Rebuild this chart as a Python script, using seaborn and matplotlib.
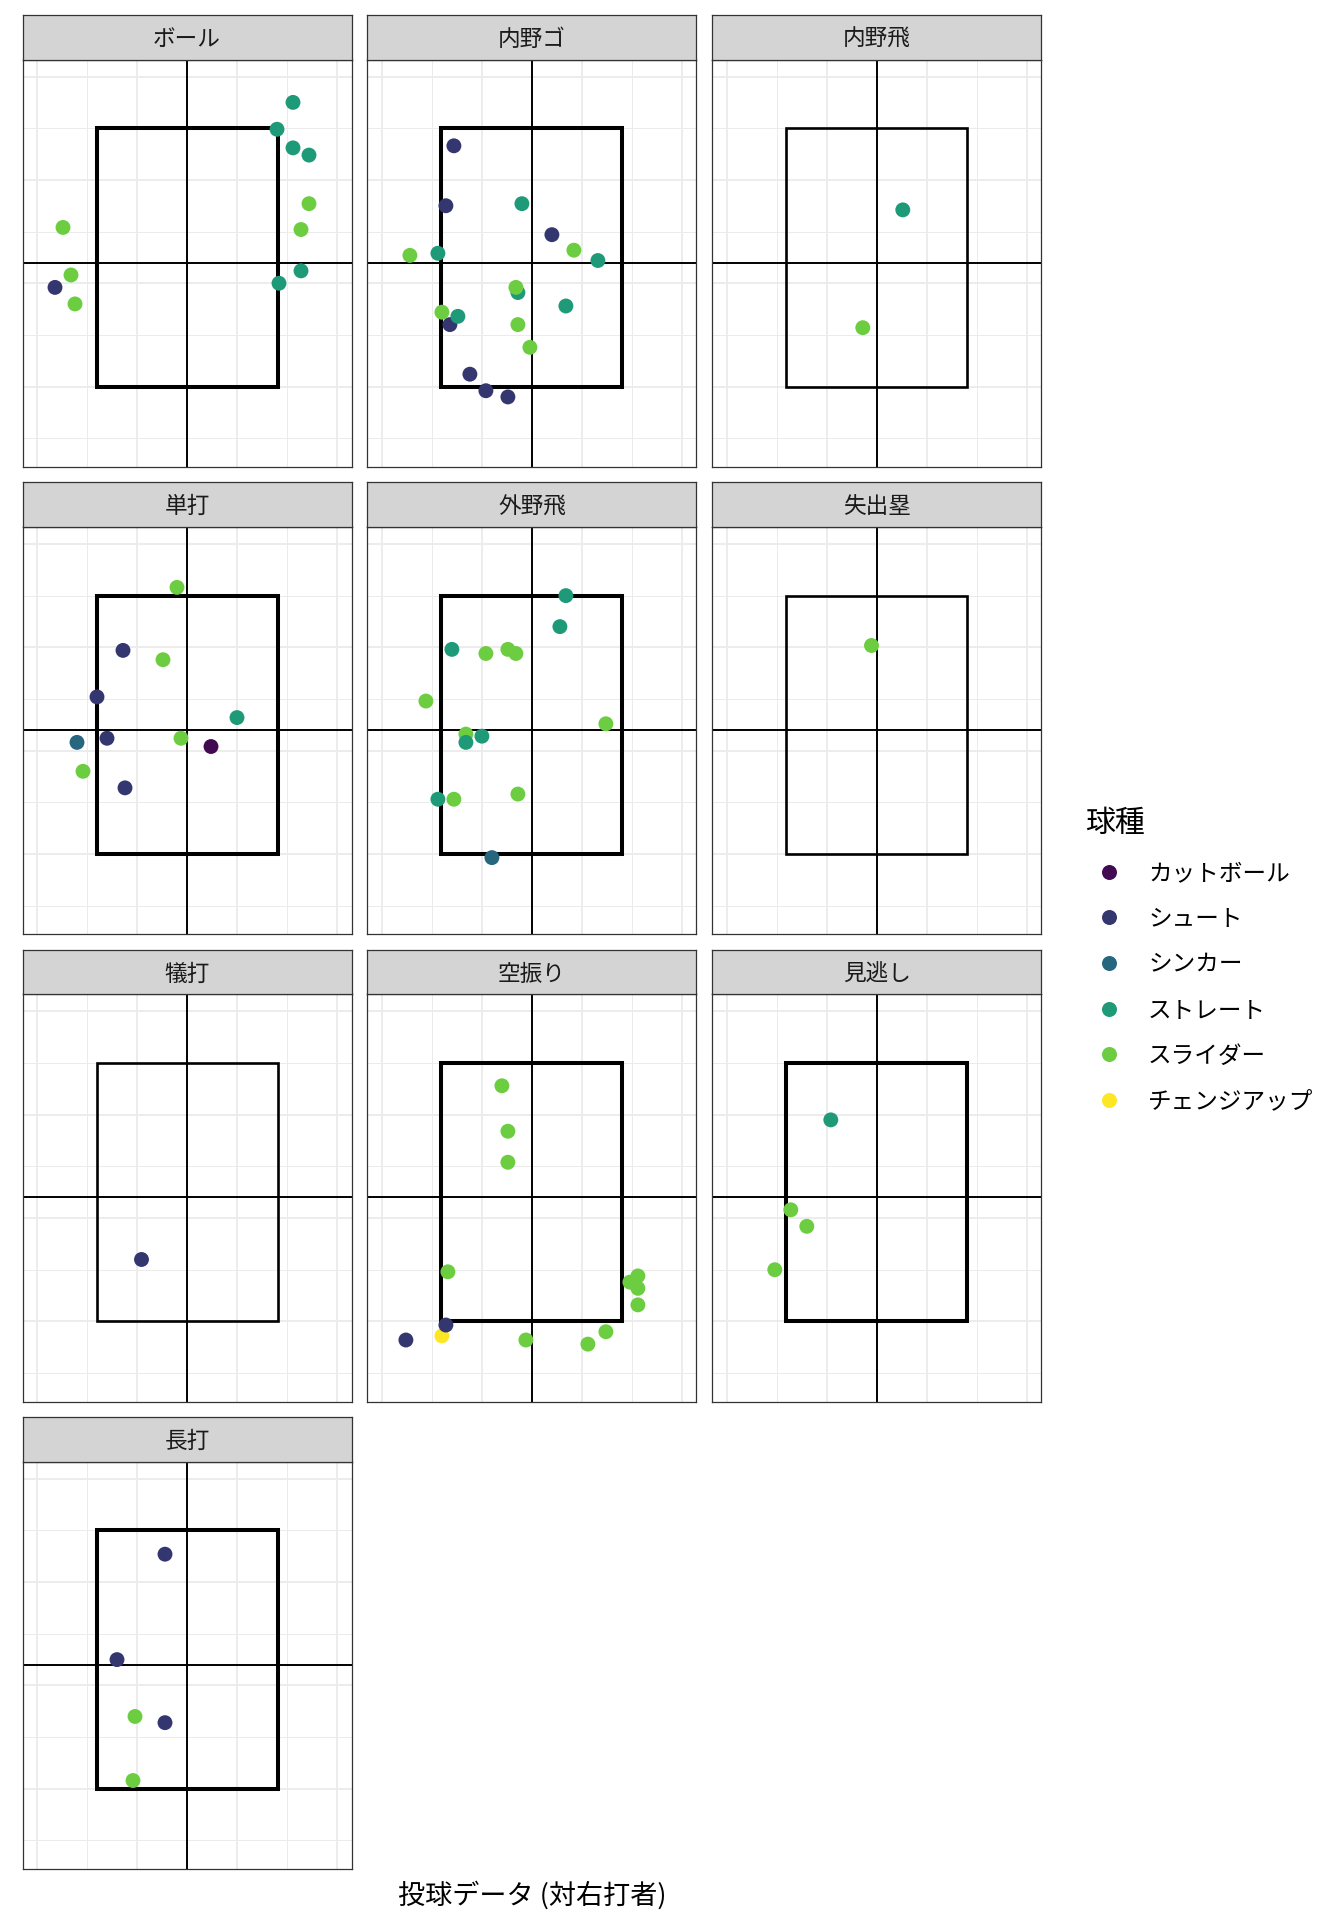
import matplotlib
matplotlib.use('Agg')
import matplotlib.pyplot as plt
from matplotlib.patches import Rectangle
from matplotlib.lines import Line2D
import pandas as pd
import seaborn as sns


RESULTS = ['ボール', '内野ゴ', '内野飛', '単打', '外野飛', '失出塁', '犠打', '空振り', '見逃し', '長打']

PITCH_TYPES = ['カットボール', 'シュート', 'シンカー', 'ストレート', 'スライダー', 'チェンジアップ']
PITCH_COLORS = ['#420A50', '#34366F', '#26667F', '#1F9A78', '#6CCD40', '#FDE725']

# pitch type / horizontal / vertical location of every pitch, per at-bat result
PITCH = {
  'ボール': ['シュート'] + ['ストレート'] * 6 + ['スライダー'] * 5,
  '内野ゴ': ['シュート'] * 7 + ['ストレート'] * 6 + ['スライダー'] * 6,
  '内野飛': ['ストレート', 'スライダー'],
  '単打': ['カットボール', 'シュート', 'シュート', 'シュート', 'シュート', 'シンカー', 'ストレート',
          'スライダー', 'スライダー', 'スライダー', 'スライダー'],
  '外野飛': ['ストレート', 'スライダー', 'スライダー', 'ストレート', 'ストレート', 'ストレート', 'ストレート',
          'ストレート', 'スライダー', 'スライダー', 'スライダー', 'スライダー', 'スライダー', 'スライダー', 'シンカー'],
  '失出塁': ['スライダー'],
  '犠打': ['シュート'],
  '空振り': ['スライダー'] * 11 + ['チェンジアップ', 'シュート', 'シュート'],
  '見逃し': ['ストレート', 'スライダー', 'スライダー', 'スライダー'],
  '長打': ['シュート', 'シュート', 'シュート', 'スライダー', 'スライダー'],
}

PLATE_X = {
  'ボール': [-1.32, 1.06, 0.90, 1.06, 1.22, 1.14, 0.92, 1.22, 1.14, -1.24, -1.16, -1.12],
  '内野ゴ': [-0.78, -0.86, 0.20, -0.82, -0.62, -0.46, -0.24,
            -0.10, -0.94, 0.66, -0.14, 0.34, -0.74,
            -1.22, 0.42, -0.16, -0.90, -0.14, -0.02],
  '内野飛': [0.26, -0.14],
  '単打': [0.24, -0.64, -0.90, -0.80, -0.62, -1.10, 0.50, -0.10, -0.24, -0.06, -1.04],
  '外野飛': [-0.94, -0.78, -0.66, -0.66, -0.50, 0.34, 0.28, -0.80, -0.46, -0.24, -0.16, -1.06, 0.74, -0.14, -0.40],
  '失出塁': [-0.06],
  '犠打': [-0.46],
  '空振り': [-0.30, -0.24, -0.24, -0.84, 1.06, 0.98, 1.06, 1.06, 0.74, 0.56, -0.06, -0.90, -0.86, -1.26],
  '見逃し': [-0.46, -0.86, -0.70, -1.02],
  '長打': [-0.22, -0.70, -0.22, -0.52, -0.54],
}

PLATE_Y = {
  'ボール': [0.96, 2.75, 2.49, 2.31, 2.24, 1.12, 1.00, 1.77, 1.52, 1.54, 1.08, 0.80],
  '内野ゴ': [2.33, 1.75, 1.47, 0.60, 0.12, -0.04, -0.10,
            1.77, 1.29, 1.22, 0.91, 0.78, 0.68,
            1.27, 1.32, 0.96, 0.72, 0.60, 0.38],
  '内野飛': [1.71, 0.57],
  '単打': [1.04, 1.97, 1.52, 1.12, 0.64, 1.08, 1.32, 2.58, 1.88, 1.12, 0.80],
  '外野飛': [0.53, 0.53, 1.16, 1.08, 1.14, 2.50, 2.20, 1.98, 1.94, 1.98, 1.94, 1.48, 1.26, 0.58, -0.035],
  '失出塁': [2.02],
  '犠打': [0.60],
  '空振り': [2.28, 1.84, 1.54, 0.48, 0.44, 0.38, 0.32, 0.16, -0.10, -0.22, -0.18, -0.14, -0.035, -0.18],
  '見逃し': [1.95, 1.08, 0.92, 0.50],
  '長打': [2.27, 1.25, 0.64, 0.70, 0.08],
}

# strike zone and reference lines
ZONE_LEFT, ZONE_RIGHT = -0.905, 0.905
ZONE_BOTTOM, ZONE_TOP = 0.0, 2.5
MID_X, MID_Y = 0.0, 1.2

W, H = 1344, 1920
PANEL_W, PANEL_H = 329, 407.2
STRIP_H = 44.5
COL_STEP, ROW_STEP = 344.9, 467.4


def fig_rect(left, top, w, h):
  return [left / W, 1 - (top + h) / H, w / W, h / H]


def draw_panel(fig, i, result, df):
  r, c = divmod(i, 3)
  left = 22.5 + COL_STEP * c
  strip_top = 15 + ROW_STEP * r

  ax = fig.add_axes(fig_rect(left, strip_top + STRIP_H, PANEL_W, PANEL_H))
  sub = df[df['result'] == result]

  ax.set_xlim(-1.645, 1.645)
  ax.set_ylim(-0.775, 3.165)
  ax.set_xticks([-1.5, -0.5, 0.5, 1.5])
  ax.set_xticks([-1, 0, 1], minor=True)
  ax.set_yticks([0, 1, 2, 3])
  ax.set_yticks([-0.5, 0.5, 1.5, 2.5], minor=True)
  ax.grid(which='major', color='#EBEBEB', linewidth=1.3)
  ax.grid(which='minor', color='#EBEBEB', linewidth=0.7)
  ax.tick_params(which='both', length=0, labelbottom=False, labelleft=False)
  ax.set_axisbelow(True)

  ax.axvline(MID_X, color='black', linewidth=1.4, zorder=2)
  ax.axhline(MID_Y, color='black', linewidth=1.4, zorder=2)

  # the original draws the zone once per row, so busy panels end up with a heavier outline
  zone_lw = 1.9 if len(sub) <= 2 else 2.9
  ax.add_patch(Rectangle((ZONE_LEFT, ZONE_BOTTOM), ZONE_RIGHT - ZONE_LEFT, ZONE_TOP - ZONE_BOTTOM,
                         fill=False, edgecolor='black', linewidth=zone_lw, zorder=3))

  sns.scatterplot(data=sub, x='x', y='y', hue='pitch', hue_order=PITCH_TYPES, palette=PITCH_COLORS,
                  s=115, linewidth=0, legend=False, ax=ax, zorder=4)
  ax.set_xlabel('')
  ax.set_ylabel('')

  for sp in ax.spines.values():
    sp.set_color('#333333')
    sp.set_linewidth(0.9)

  sax = fig.add_axes(fig_rect(left, strip_top, PANEL_W, STRIP_H))
  sax.set_facecolor('#D4D4D4')
  sax.set_xticks([])
  sax.set_yticks([])
  for sp in sax.spines.values():
    sp.set_color('#333333')
    sp.set_linewidth(0.9)
  sax.text(0.5, 0.45, result, ha='center', va='center', fontsize=16.3, color='#1A1A1A', transform=sax.transAxes)


def main():
  plt.rcParams['font.family'] = ['Noto Sans CJK JP', 'DejaVu Sans']

  rows = []
  for res in RESULTS:
    for p, x, y in zip(PITCH[res], PLATE_X[res], PLATE_Y[res]):
      rows.append({'result': res, 'pitch': p, 'x': x, 'y': y})
  df = pd.DataFrame(rows)

  fig = plt.figure(figsize=(W / 100, H / 100), dpi=100)

  for i, res in enumerate(RESULTS):
    draw_panel(fig, i, res, df)

  handles = [Line2D([], [], marker='o', linestyle='', markersize=10.8, markerfacecolor=col,
                    markeredgewidth=0) for col in PITCH_COLORS]
  fig.legend(handles, PITCH_TYPES, title='球種', loc='upper left',
             bbox_to_anchor=(1064 / W, 1 - 787 / H), frameon=False,
             fontsize=17, title_fontsize=21.5, labelspacing=0.96,
             handlelength=2.0, handletextpad=0.66, alignment='left')

  fig.text(532 / W, 1 - 1895 / H, '投球データ (対右打者)', ha='center', va='center', fontsize=19.5)

  fig.savefig('out.png', dpi=100, facecolor='white')


main()
